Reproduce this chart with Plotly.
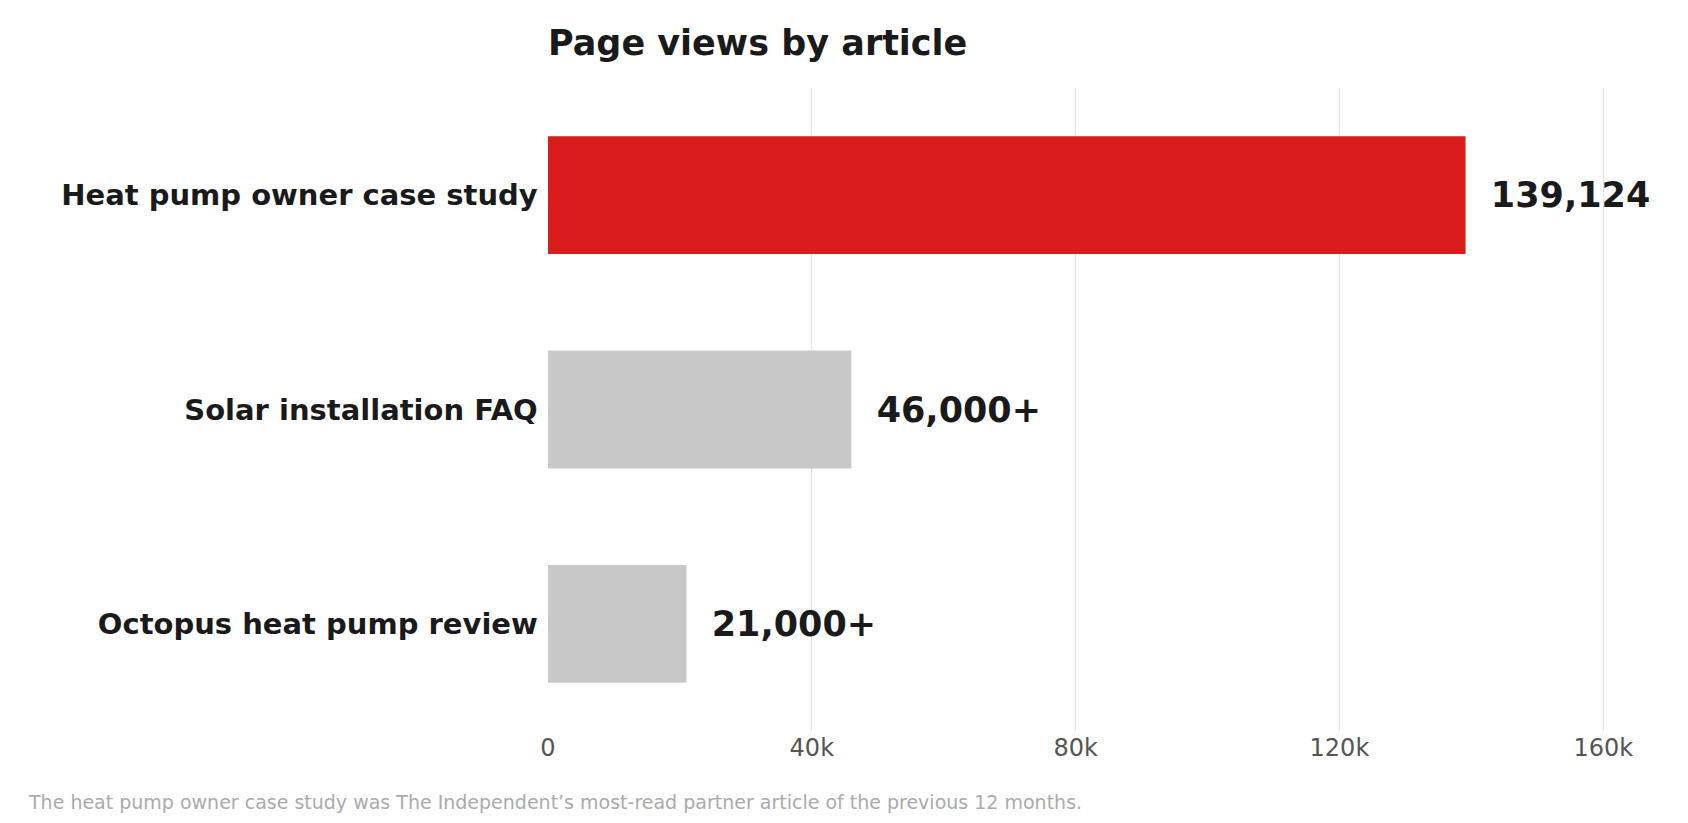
import plotly.graph_objects as go

articles = ["Heat pump owner case study", "Solar installation FAQ", "Octopus heat pump review"]
views = [139124, 46000, 21000]
labels = ["139,124", "46,000+", "21,000+"]
colors = ["#d91c1c", "#c8c8c8", "#c8c8c8"]

fig = go.Figure(go.Bar(
    x=views, y=articles, orientation="h",
    marker=dict(color=colors, line=dict(width=0)),
    width=0.55,
    text=labels, textposition="outside", cliponaxis=False,
    textfont=dict(size=35, color="#1a1a1a", family="DejaVu Sans"),
    texttemplate="  <b>%{text}</b>",
))
fig.update_layout(
    width=1688, height=823,
    paper_bgcolor="white", plot_bgcolor="white",
    font=dict(family="DejaVu Sans"),
    title=dict(text="<b>Page views by article</b>", x=0.0, xref="paper", y=0.958, yanchor="middle",
               font=dict(size=35, color="#1a1a1a")),
    margin=dict(l=540, r=40, t=80, b=100),
    showlegend=False,
    annotations=[dict(text="The heat pump owner case study was The Independent’s most-read partner article of the previous 12 months.",
                      xref="paper", yref="paper", x=-522/1108, y=-0.11, xanchor="left", yanchor="middle",
                      showarrow=False, font=dict(size=19, color="#aaaaaa"))],
)
fig.update_xaxes(range=[0, 168000], tickvals=[0, 40000, 80000, 120000, 160000],
                 ticktext=["0", "40k", "80k", "120k", "160k"], showgrid=True, gridcolor="#e2e2e2",
                 zeroline=False, tickfont=dict(size=24, color="#555555"), ticks="")
fig.update_yaxes(autorange="reversed", tickfont=dict(size=29, color="#1a1a1a"),
                 tickprefix="<b>", ticksuffix="</b> ", showgrid=False)
fig.write_html("out.html")
